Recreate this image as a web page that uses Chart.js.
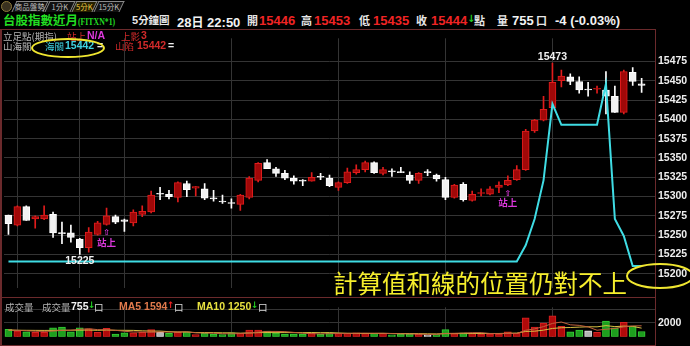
<!DOCTYPE html>
<html>
<head>
<meta charset="utf-8">
<script src="https://cdn.jsdelivr.net/npm/chart.js@4.4.0/dist/chart.umd.min.js"></script>
<style>
body{margin:0;background:#000;width:690px;height:346px;overflow:hidden;position:relative;font-family:"Noto Sans CJK TC",sans-serif}
.t{position:absolute;white-space:nowrap;height:14px;line-height:14px}
.n{font:bold 13px "Liberation Sans",sans-serif}
.c{font-size:11px;font-weight:bold;color:#e6e6e6}
.s{font-size:9.5px;color:#b4b4b4}
.sn{font:bold 10.5px "Liberation Sans",sans-serif}
.tab{position:absolute;top:1px;height:10px;border:1px solid #8a8a8a;border-bottom:none;transform:skewX(-25deg);background:#111}
.tab span{display:block;transform:skewX(25deg);font-size:7.5px;line-height:10px;color:#bdbdbd;text-align:center}
canvas{position:absolute;left:0}
.frame{position:absolute;border:1px solid #6b2a2c;border-left-width:2px;box-sizing:border-box}
</style>
</head>
<body>
<div style="position:absolute;left:1px;top:1px;width:9px;height:9px;border-radius:50%;background:#3a3220;border:1px solid #8c7a3c"></div>
<div class="tab" style="left:14px;width:30px"><span>商品盤勢</span></div>
<div class="tab" style="left:47px;width:24px"><span>1分K</span></div>
<div class="tab" style="left:74px;width:19px;background:#262000"><span style="color:#e8c848">5分K</span></div>
<div class="tab" style="left:96px;width:24px"><span>15分K</span></div>

<div class="t" style="left:3px;top:13px;color:#22dd22;font-size:12.5px;font-weight:bold">台股指數近月<span style="display:inline-block;transform:scaleX(0.74);transform-origin:left center;font:bold 10.5px 'Liberation Serif',serif">(FITXN*1)</span></div>
<div class="t c" style="left:132px;top:13px;font-size:10.5px"><span style="font:bold 11px 'Liberation Sans'">5</span>分鐘圖</div>
<div class="t n" style="left:177px;top:13px;color:#f2f2f2">28<span style="font:bold 12px 'Noto Sans CJK TC'">日</span> 22:50</div>
<div class="t c" style="left:247px;top:13px">開</div>
<div class="t n" style="left:259px;top:13px;color:#f02424">15446</div>
<div class="t c" style="left:301px;top:13px">高</div>
<div class="t n" style="left:314px;top:13px;color:#f02424">15453</div>
<div class="t c" style="left:359px;top:13px">低</div>
<div class="t n" style="left:373px;top:13px;color:#f02424">15435</div>
<div class="t c" style="left:416px;top:13px">收</div>
<div class="t n" style="left:431px;top:13px;color:#f02424">15444</div>
<div class="t" style="left:467px;top:13px;color:#22cc22;font:bold 10px 'DejaVu Sans'">↓</div>
<div class="t c" style="left:474px;top:13px">點</div>
<div class="t c" style="left:497px;top:13px">量</div>
<div class="t n" style="left:512px;top:13px;color:#f2f2f2">755</div>
<div class="t c" style="left:536px;top:13px">口</div>
<div class="t n" style="left:555px;top:13px;color:#f2f2f2">-4 (-0.03%)</div>

<canvas id="main" width="690" height="268" style="top:29px"></canvas>
<canvas id="vol" width="690" height="48" style="top:298px"></canvas>
<div class="frame" style="left:0;top:29px;width:656px;height:269px"></div>
<div class="frame" style="left:0;top:297px;width:656px;height:49px"></div>

<div class="t s" style="left:3px;top:29px">立足點(期指)</div>
<div class="t s" style="left:67px;top:29px;color:#d22a2a">站上</div>
<div class="t sn" style="left:87px;top:29px;color:#dd38dd">N/A</div>
<div class="t s" style="left:121px;top:29px;color:#d22a2a">上影</div>
<div class="t sn" style="left:141px;top:29px;color:#d22a2a">3</div>
<div class="t s" style="left:3px;top:39px">山海關</div>
<div class="t s" style="left:45px;top:39px;color:#3fd2e2">海關</div>
<div class="t sn" style="left:65px;top:39px;color:#3fd2e2">15442</div>
<div class="t sn" style="left:97px;top:39px;color:#eee">=</div>
<div class="t s" style="left:115px;top:39px;color:#d22a2a">山陷</div>
<div class="t sn" style="left:137px;top:39px;color:#d22a2a">15442</div>
<div class="t sn" style="left:168px;top:39px;color:#eee">=</div>

<div class="t s" style="left:5px;top:300px">成交量</div>
<div class="t s" style="left:42px;top:300px">成交量</div>
<div class="t sn" style="left:71px;top:300px;color:#f2f2f2">755</div>
<div class="t" style="left:88px;top:300px;color:#22cc22;font:bold 9px 'DejaVu Sans'">↓</div>
<div class="t s" style="left:94px;top:300px;color:#ddd">口</div>
<div class="t sn" style="left:119px;top:300px;color:#e07a4c">MA5 1594</div>
<div class="t" style="left:167px;top:300px;color:#ee2222;font:bold 9px 'DejaVu Sans'">↑</div>
<div class="t s" style="left:174px;top:300px;color:#ddd">口</div>
<div class="t sn" style="left:197px;top:300px;color:#e6e040">MA10 1250</div>
<div class="t" style="left:251px;top:300px;color:#22cc22;font:bold 9px 'DejaVu Sans'">↓</div>
<div class="t s" style="left:258px;top:300px;color:#ddd">口</div>

<div style="position:absolute;left:333px;top:271px;font-size:24.5px;line-height:24.5px;color:#f6ee2c;white-space:nowrap">計算值和線的位置仍對不上</div>
<svg width="690" height="346" style="position:absolute;left:0;top:0">
  <ellipse cx="68" cy="48" rx="36" ry="9" fill="none" stroke="#f0e630" stroke-width="2"/>
  <ellipse cx="660" cy="276" rx="33" ry="12" fill="none" stroke="#f0e630" stroke-width="2"/>
</svg>

<script>
const times = ['16:55','17:00','17:05','17:10','17:15','17:20','17:25','17:30','17:35','17:40','17:45','17:50',
  '17:55','18:00','18:05','18:10','18:15','18:20','18:25','18:30','18:35','18:40','18:45','18:50',
  '18:55','19:00','19:05','19:10','19:15','19:20','19:25','19:30','19:35','19:40','19:45','19:50',
  '19:55','20:00','20:05','20:10','20:15','20:20','20:25','20:30','20:35','20:40','20:45','20:50',
  '20:55','21:00','21:05','21:10','21:15','21:20','21:25','21:30','21:35','21:40','21:45','21:50',
  '21:55','22:00','22:05','22:10','22:15','22:20','22:25','22:30','22:35','22:40','22:45','22:50',''];

const opens  = [15276,15263,15287,15271,15271,15277,15253,15253,15245,15234,15251,15264,15274,15270,15266,15277,15280,15303,15303,15299,15317,15311,15310,15298,15294,15292,15290,15299,15321,15344,15336,15330,15324,15321,15320,15326,15324,15312,15318,15331,15335,15344,15330,15333,15332,15328,15321,15331,15328,15322,15299,15316,15295,15304,15303,15312,15315,15322,15335,15385,15399,15415,15450,15455,15449,15438,15439,15438,15430,15409,15461,15446];
const highs  = [15276,15288,15288,15275,15288,15280,15267,15263,15246,15260,15268,15285,15276,15271,15283,15288,15307,15312,15308,15319,15320,15313,15317,15308,15302,15297,15303,15326,15344,15348,15338,15334,15327,15322,15331,15330,15328,15319,15337,15341,15346,15345,15338,15336,15338,15332,15331,15335,15329,15325,15316,15318,15307,15310,15313,15319,15327,15340,15387,15400,15430,15473,15464,15459,15455,15448,15443,15462,15443,15464,15467,15453];
const lows   = [15251,15262,15269,15259,15270,15247,15239,15241,15225,15228,15250,15263,15265,15255,15262,15274,15279,15296,15297,15293,15300,15301,15296,15294,15291,15285,15282,15297,15319,15336,15326,15322,15316,15314,15320,15322,15313,15308,15317,15329,15332,15330,15328,15326,15331,15317,15317,15327,15320,15296,15298,15294,15294,15301,15302,15305,15314,15321,15334,15383,15398,15413,15442,15445,15434,15430,15434,15407,15409,15407,15444,15435];
const closes = [15265,15287,15269,15274,15276,15253,15252,15247,15234,15254,15266,15275,15267,15268,15280,15281,15302,15303,15300,15318,15309,15313,15298,15297,15293,15291,15302,15324,15343,15336,15330,15324,15320,15320,15325,15325,15314,15318,15332,15335,15344,15331,15335,15332,15331,15321,15330,15331,15323,15299,15315,15296,15303,15305,15310,15315,15321,15335,15385,15399,15413,15448,15456,15449,15438,15438,15440,15430,15409,15462,15449,15444];

// 山海關 line
const guan = [15216,15216,15216,15216,15216,15216,15216,15216,15216,15216,15216,15216,15216,15216,15216,15216,15216,15216,15216,15216,15216,15216,15216,15216,15216,15216,15216,15216,15216,15216,15216,15216,15216,15216,15216,15216,15216,15216,15216,15216,15216,15216,15216,15216,15216,15216,15216,15216,15216,15216,15216,15216,15216,15216,15216,15216,15216,15216,15237,15271,15321,15420,15393,15393,15393,15393,15393,15446,15271,15249,15210,15210];

const vols = [1060,810,710,650,650,1290,1390,710,1290,1130,650,1230,390,580,580,650,1030,650,480,650,710,320,480,390,320,580,520,970,970,810,580,390,390,390,480,390,580,480,480,580,480,480,480,260,390,390,390,260,320,1030,480,580,480,390,390,390,710,480,2740,1390,2000,3060,1520,710,970,870,650,2260,1290,2100,1550,755];
const ma5  = [1000,930,870,800,774,819,935,935,1064,1161,1032,1000,935,793,684,684,645,696,677,690,703,561,529,510,445,419,458,555,671,768,768,742,626,509,445,406,445,464,484,503,522,503,503,458,419,400,381,335,348,477,497,535,581,593,464,445,471,471,942,1142,1465,1936,2142,1736,1652,1426,942,1090,1206,1432,1568,1594];
const ma10 = [950,940,930,920,915,920,930,945,955,968,926,968,935,929,922,858,822,816,735,687,693,603,613,594,568,561,510,542,590,607,594,600,590,590,606,587,593,545,497,474,464,474,484,471,461,461,442,419,403,448,448,458,458,471,471,471,503,526,768,803,955,1203,1307,1339,1397,1445,1439,1616,1471,1542,1497,1250];

const priceTicks = [15200,15225,15250,15275,15300,15325,15350,15375,15400,15425,15450,15475];
const volTicks = [2000, 4000];
const gridTimes = ['17:00','17:35','18:00','19:00','20:00','21:00','22:00'];
const markTimes = ['17:50','21:35'];   // 站上 markers

const GRID = '#343434';
const AXIS_FONT = {family: 'Liberation Sans', size: 10.5, weight: 'bold'};
const gridIdx = gridTimes.map(t => times.indexOf(t));

function dir(i) {
  if (closes[i] > opens[i]) return 1;
  if (closes[i] < opens[i]) return -1;
  return 0;
}
const bodyBg = opens.map((o, i) => dir(i) > 0 ? '#a00808' : '#f2f2f2');
const bodyBd = opens.map((o, i) => dir(i) > 0 ? '#e01c1c' : '#ffffff');
const volBg = vols.map((v, i) => dir(i) > 0 ? '#b00a0a' : dir(i) < 0 ? '#1e9e1e' : '#b4b4b4');
const volBd = vols.map((v, i) => dir(i) > 0 ? '#d82222' : dir(i) < 0 ? '#35cc35' : '#e6e6e6');

const xAxis = {
  type: 'category',
  offset: true,
  grid: {offset: false, drawTicks: false, color: c => gridIdx.includes(c.index) ? GRID : 'rgba(0,0,0,0)'},
  border: {display: false},
  ticks: {display: false},
  afterFit: s => { s.height = 0; }
};

// labels for high / low and 站上 markers
const annot = {
  id: 'annot',
  afterDatasetsDraw(chart) {
    const {ctx, scales: {x, y}} = chart;
    const hi = highs.indexOf(Math.max(...highs));
    const lo = lows.indexOf(Math.min(...lows));
    ctx.save();
    ctx.font = 'bold 10.5px "Liberation Sans"';
    ctx.fillStyle = '#f0f0f0';
    ctx.textAlign = 'center';
    ctx.textBaseline = 'bottom';
    ctx.fillText(String(highs[hi]), x.getPixelForValue(hi), y.getPixelForValue(highs[hi]) - 1);
    ctx.textBaseline = 'top';
    ctx.fillText(String(lows[lo]), x.getPixelForValue(lo), y.getPixelForValue(lows[lo]) + 1);

    ctx.fillStyle = '#dd38dd';
    markTimes.forEach(t => {
      const i = times.indexOf(t);
      const px = x.getPixelForValue(i);
      const py = y.getPixelForValue(lows[i]);
      ctx.textBaseline = 'middle';
      ctx.font = 'bold 8px "DejaVu Sans"';
      ctx.fillText('⇧', px, py + 8);
      ctx.font = 'bold 9.5px "Noto Sans CJK TC"';
      ctx.fillText('站上', px, py + 17);
    });
    ctx.restore();
  }
};

new Chart(document.getElementById('main'), {
  type: 'bar',
  data: {
    labels: times,
    datasets: [
      {
        type: 'line',
        data: guan,
        borderColor: '#3fdce4',
        borderWidth: 2,
        pointRadius: 0,
        tension: 0,
        order: 0
      },
      {
        data: opens.map((o, i) => [o, closes[i]]),
        backgroundColor: bodyBg,
        borderColor: bodyBd,
        borderWidth: 1,
        borderSkipped: false,
        barThickness: 7,
        minBarLength: 1,
        grouped: false,
        order: 1
      },
      {
        data: lows.map((l, i) => [l, highs[i]]),
        backgroundColor: bodyBd,
        barThickness: 1,
        grouped: false,
        order: 2
      }
    ]
  },
  options: {
    responsive: false,
    animation: false,
    layout: {padding: {left: 4, right: 0, top: 0, bottom: 0}},
    plugins: {legend: {display: false}, tooltip: {enabled: false}},
    scales: {
      x: xAxis,
      y: {
        position: 'right',
        min: 15182,
        max: 15505,
        afterBuildTicks: s => { s.ticks = priceTicks.map(v => ({value: v})); },
        afterFit: s => { s.width = 35; },
        grid: {color: GRID, drawTicks: false},
        border: {display: false},
        ticks: {color: '#eeeeee', font: AXIS_FONT, padding: 3, callback: v => String(v)}
      }
    }
  },
  plugins: [annot]
});

new Chart(document.getElementById('vol'), {
  type: 'bar',
  data: {
    labels: times,
    datasets: [
      {type: 'line', data: ma5, borderColor: '#c0603c', borderWidth: 1, pointRadius: 0, tension: 0, order: 0},
      {type: 'line', data: ma10, borderColor: '#d8c044', borderWidth: 1, pointRadius: 0, tension: 0, order: 0},
      {
        data: vols,
        backgroundColor: volBg,
        borderColor: volBd,
        borderWidth: 1,
        borderSkipped: false,
        barThickness: 7,
        order: 1
      }
    ]
  },
  options: {
    responsive: false,
    animation: false,
    layout: {padding: {left: 4, right: 0, top: 0, bottom: 3}},
    plugins: {legend: {display: false}, tooltip: {enabled: false}},
    scales: {
      x: xAxis,
      y: {
        position: 'right',
        min: 0,
        max: 4286,
        afterBuildTicks: s => { s.ticks = volTicks.map(v => ({value: v})); },
        afterFit: s => { s.width = 35; },
        grid: {color: GRID, drawTicks: false},
        border: {display: false},
        ticks: {color: '#eeeeee', font: AXIS_FONT, padding: 3, callback: v => v === 2000 ? String(v) : ''}
      }
    }
  }
});
</script>
</body>
</html>
